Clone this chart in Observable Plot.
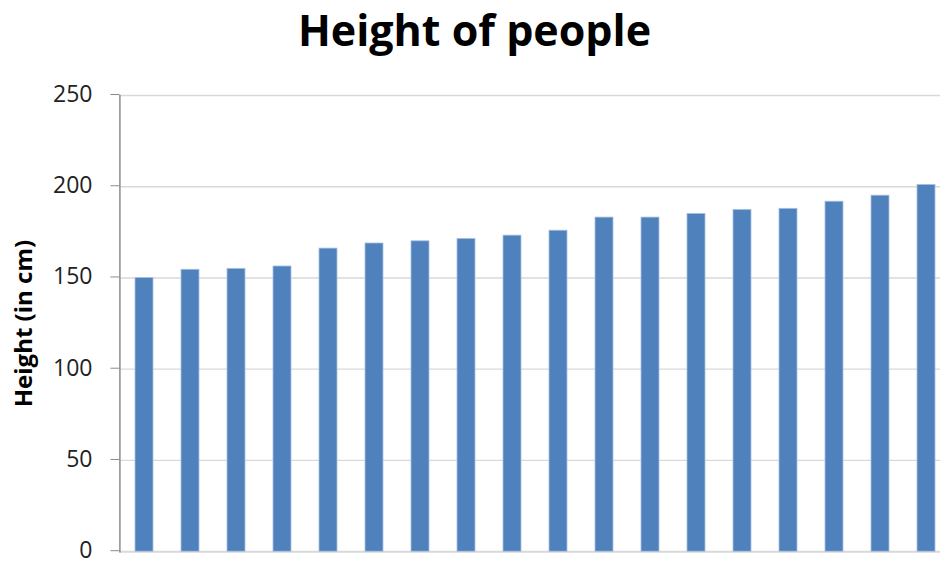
<!DOCTYPE html>
<html>
<head>
<meta charset="utf-8">
<script src="https://cdn.jsdelivr.net/npm/d3@7"></script>
<script src="https://cdn.jsdelivr.net/npm/@observablehq/plot@0.6"></script>
<style>
  html, body { margin: 0; padding: 0; background: #fff; overflow: hidden; }
  #title {
    box-sizing: border-box; width: 941px; height: 80px; padding-top: 8px; padding-left: 8px;
    font-family: "Open Sans", sans-serif; font-weight: bold; font-size: 43px; line-height: 43px;
    text-align: center; color: #000;
  }
</style>
</head>
<body>
<div id="title">Height of people</div>
<div id="chart"></div>
<script>
const people = ["P1","P2","P3","P4","P5","P6","P7","P8","P9","P10","P11","P12","P13","P14","P15","P16","P17","P18"];
const heights = [150, 154.5, 155, 156.3, 166.1, 168.9, 170.1, 171.4, 173.2, 175.9, 183.1, 183.1, 185.1, 187.3, 187.9, 191.8, 195.1, 201];
const yTicks = [0, 50, 100, 150, 200, 250];
const yLabel = "Height (in cm)";

const data = people.map((p, i) => ({person: p, height: heights[i]}));

const chart = Plot.plot({
  width: 941,
  height: 481,
  marginLeft: 119.4,
  marginRight: 1,
  marginTop: 15,
  marginBottom: 9.8,
  style: {fontFamily: "Open Sans, sans-serif", background: "#fff", overflow: "visible"},
  x: {domain: people, range: [119.4, 951], paddingInner: 0.6, paddingOuter: 0.3, axis: null},
  y: {domain: [0, 250], ticks: yTicks, label: null},
  marks: [
    Plot.gridY(yTicks.filter(t => t > 0), {stroke: "#d9d9d9", strokeOpacity: 1, strokeWidth: 1.3}),
    Plot.ruleY([0], {stroke: "#d9d9d9", strokeWidth: 2}),
    Plot.barY(data, {x: "person", y: "height", fill: "#4f81bd", stroke: "#a9c1df", strokeWidth: 0.8}),
    Plot.axisY({ticks: yTicks, tickSize: 9, tickPadding: 18.4, fontSize: 23, stroke: "#8c8c8c", fill: "#222", label: null, dy: -1, tickFormat: d => String(d)}),
    Plot.frame({anchor: "left", stroke: "#8c8c8c", strokeWidth: 1.5}),
    Plot.text([yLabel], {text: d => d, frameAnchor: "left", textAnchor: "middle", rotate: -90, dx: -88, lineAnchor: "bottom", fontSize: 24, fontWeight: "bold", fill: "#000"})
  ]
});
document.getElementById("chart").append(chart);
</script>
</body>
</html>
